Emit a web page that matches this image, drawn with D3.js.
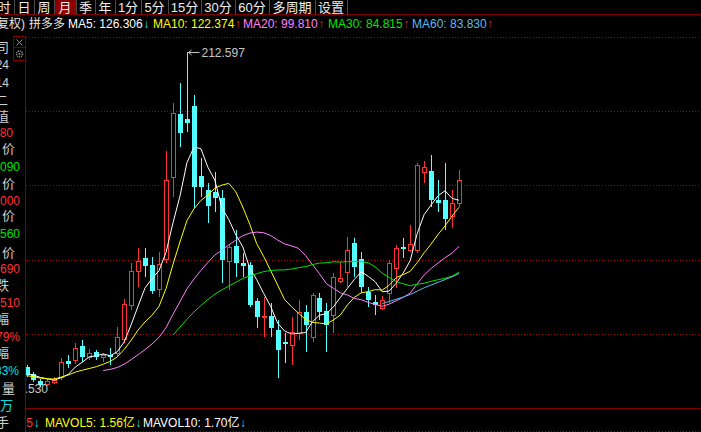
<!DOCTYPE html>
<html>
<head>
<meta charset="utf-8">
<script src="https://cdn.jsdelivr.net/npm/d3@7/dist/d3.min.js"></script>
<style>
html,body{margin:0;padding:0;background:#000;overflow:hidden;}
svg{display:block;}
text{font-family:"Liberation Sans","Noto Sans CJK SC",sans-serif;}
</style>
</head>
<body>
<svg id="chart" width="701" height="432"></svg>
<script>
// ---------------- DATA ----------------
const months = ["2019-03","2019-04","2019-05","2019-06","2019-07","2019-08","2019-09","2019-10","2019-11","2019-12",
"2020-01","2020-02","2020-03","2020-04","2020-05","2020-06","2020-07","2020-08","2020-09","2020-10","2020-11","2020-12",
"2021-01","2021-02","2021-03","2021-04","2021-05","2021-06","2021-07","2021-08","2021-09","2021-10","2021-11","2021-12",
"2022-01","2022-02","2022-03","2022-04","2022-05","2022-06","2022-07","2022-08","2022-09","2022-10","2022-11","2022-12",
"2023-01","2023-02","2023-03","2023-04","2023-05","2023-06","2023-07","2023-08","2023-09","2023-10","2023-11","2023-12",
"2024-01","2024-02","2024-03","2024-04","2024-05"];

const open = [28.39,24.29,20.20,18.45,19.62,22.54,31.89,32.48,40.67,34.24,
37.16,34.24,35.41,36.57,44.76,64.64,84.53,92.13,88.04,74.00,
91.55,139.50,176.34,173.42,181.02,140.08,131.90,130.73,127.22,90.38,
99.15,89.21,88.04,66.99,57.63,58.22,50.02,43.01,41.25,48.27,
60.55,45.93,68.74,61.14,58.80,78.68,83.94,100.90,91.55,72.25,
66.40,62.89,71.66,86.28,98.56,96.81,96.81,142.43,143.01,126.05,
126.05,116.69,124.30];

const high = [29.56,25.46,21.37,21.96,22.54,33.65,35.40,42.42,44.18,38.91,
38.33,36.57,39.50,51.78,68.15,89.21,97.98,97.98,92.71,95.64,
154.71,182.78,194.47,212.597,187.45,150.61,136.00,142.43,131.90,99.73,
108.51,95.06,89.79,68.74,69.33,65.82,55.87,48.27,57.63,67.57,
64.64,71.66,71.66,65.82,83.36,89.79,104.41,103.83,95.64,75.17,
70.49,69.91,90.96,99.73,103.83,111.41,147.69,148.61,152.37,137.75,
147.69,131.90,143.60];

const low = [22.54,19.62,16.53,17.28,18.45,20.79,27.80,30.14,31.31,32.48,
32.48,31.31,29.56,34.82,42.42,61.72,75.17,81.02,71.08,69.33,
89.21,127.80,157.04,165.82,121.37,127.80,112.59,119.03,77.51,73.42,
81.02,81.02,63.47,51.19,45.93,45.93,21.96,30.73,29.56,44.18,
37.16,43.01,55.87,37.16,48.27,77.51,75.17,81.02,71.66,63.47,
58.80,61.72,65.82,74.59,92.13,95.64,95.06,135.99,121.96,119.03,
108.51,109.68,121.96];

const close = [23.71,20.79,17.86,20.20,20.79,31.31,30.14,39.50,34.24,36.57,
34.24,35.41,34.24,45.93,65.23,84.53,90.38,87.45,72.83,88.62,
137.75,176.93,165.23,171.08,133.65,133.65,122.55,127.22,90.96,98.56,
89.21,87.45,64.64,57.63,58.22,51.19,38.33,41.84,48.86,60.55,
52.95,70.49,60.55,52.95,81.02,80.44,96.81,86.87,75.17,67.57,
64.64,67.57,89.21,97.98,97.40,100.32,146.52,145.35,126.05,124.30,
114.94,124.30,137.75];

const ma5 = [24.6,23.6,22.3,21.5,20.67,22.19,24.06,28.39,31.20,34.35,
34.94,35.99,34.94,37.28,43.01,53.07,64.06,74.70,80.08,84.76,
95.41,112.72,128.27,147.92,156.93,156.11,145.23,137.63,121.61,114.59,
105.70,98.68,86.16,79.50,71.43,63.83,54.00,49.44,47.69,48.15,
48.51,54.94,58.68,59.50,63.59,69.09,74.35,79.62,84.06,81.37,
78.21,72.36,72.83,77.39,83.36,90.50,106.29,117.51,123.13,128.51,
131.43,126.99,125.9];

const ma10 = [23.3,22.8,21.9,21.4,21.4,22.5,23.7,25.4,26.5,27.51,
28.56,30.03,31.66,34.24,38.68,44.00,50.03,54.82,58.68,63.89,
74.24,88.39,101.49,114.00,120.85,125.76,128.97,132.95,134.76,135.76,
130.90,121.96,111.90,100.55,93.01,84.76,76.34,67.80,63.59,59.79,
56.17,54.47,54.06,53.59,55.87,58.80,64.65,69.15,71.78,72.48,
73.65,73.36,76.23,80.73,82.37,84.35,89.33,95.17,100.26,105.93,
110.96,116.64,121.8];

const ma20 = [null,null,null,null,null,null,null,null,null,null,
null,26.3,27.0,28.1,30.0,32.7,35.6,38.6,41.9,45.70,
51.40,59.21,66.58,74.12,79.76,84.88,89.50,93.89,96.72,99.82,
102.57,105.17,106.69,107.28,106.93,105.26,102.66,100.38,99.18,97.78,
93.54,88.21,82.98,77.07,74.44,71.78,70.49,68.48,67.69,66.14,
64.91,63.91,65.14,67.16,69.12,71.58,76.99,82.16,86.02,89.21,
92.31,95.00,98.9];

const ma30 = [null,null,null,null,null,null,null,null,null,null,
null,null,null,null,null,null,null,null,null,null,
null,47.0,51.7,56.3,60.5,64.4,67.8,71.0,73.5,75.72,
77.90,80.12,81.68,82.93,84.18,84.84,85.11,85.19,85.68,86.48,
87.10,88.27,89.15,89.38,89.91,89.77,89.99,89.97,90.05,89.34,
86.91,83.26,80.73,78.29,77.08,75.97,76.77,77.38,78.54,79.40,
80.26,81.49,83.9];

const ma60 = [null,null,null,null,null,null,null,null,null,null,
null,null,null,null,null,null,null,null,null,null,
null,null,null,null,null,null,null,null,null,null,
null,null,null,null,null,null,null,null,null,null,
null,null,null,null,null,null,null,null,null,null,
null,65.5,66.7,68.0,69.3,70.8,72.7,74.7,76.3,77.9,
79.5,81.2,83.0];

const stockName = "拼多多";
const maNames = ["MA5","MA10","MA20","MA30","MA60"];
const maLatest = ["126.306","122.374","99.810","84.815","83.830"];
const maTrend = ["↓","↑","↑","↑","↑"];
const volNames = ["MAVOL5","MAVOL10"];
const volLatest = ["1.56亿","1.70亿"];
const volTrend = ["↓","↓"];
const menuItems = ["时","日","周","月","季","年","1分","5分","15分","30分","60分","多周期","设置"];
const menuSelected = "月";
const sideText = ["公司","24","14","二","值","80","价","090","价","000","价","560","价","690","跌","510","幅","79%","幅","83%","量","万","手"];

// ---------------- LAYOUT / STYLE ----------------
const W = 701, H = 432;
const plot = {left: 26, right: 701, top: 37, bottom: 408};
const RED = "#ff3232", CYAN = "#54ffff", DARKRED = "#800000", DOT = "#a80000";
const maColors = ["#ffffff","#ffff00","#ff80ff","#00e600","#5cb8f0"];
const maSeries = [ma5, ma10, ma20, ma30, ma60];

const svg = d3.select("#chart");
svg.append("rect").attr("width", W).attr("height", H).attr("fill", "#000");
const defs = svg.append("defs");
defs.append("clipPath").attr("id", "plotclip").append("rect")
  .attr("x", plot.left).attr("y", plot.top - 2).attr("width", plot.right - plot.left).attr("height", plot.bottom - plot.top + 2);

const x = d3.scalePoint().domain(months).range([26.5, 459]);
const y = d3.scaleLinear().domain([4.41, 221.37]).range([plot.bottom, plot.top]);

// ---- menu bar ----
const menuEdges = [-6, 14, 34, 54, 76, 95, 115, 141, 168, 201, 235, 269, 315, 347];
const menu = svg.append("g");
menuItems.forEach((t, i) => {
  const x0 = menuEdges[i], x1 = menuEdges[i + 1];
  if (t === menuSelected) menu.append("rect").attr("x", x0 + 1).attr("y", 0).attr("width", x1 - x0 - 1).attr("height", 14).attr("fill", "#8c0000");
  menu.append("line").attr("x1", x1 + 0.5).attr("x2", x1 + 0.5).attr("y1", 0).attr("y2", 14).attr("stroke", "#4a4a4a");
  menu.append("text").attr("x", (x0 + x1) / 2).attr("y", 11.5).attr("text-anchor", "middle")
    .attr("font-size", 13).attr("fill", "#eeeeee").text(t);
});
svg.append("line").attr("x1", 0).attr("x2", W).attr("y1", 14.5).attr("y2", 14.5).attr("stroke", DARKRED);

// ---- title line ----
const title = svg.append("g").attr("font-size", 12);
title.append("text").attr("x", 25).attr("y", 27.5).attr("text-anchor", "end").attr("fill", "#e6e6e6").text("(前复权)");
title.append("text").attr("x", 29).attr("y", 27.5).attr("fill", "#e6e6e6").text(stockName);
const maX = [68, 153, 243, 328, 412];
maNames.forEach((n, i) => {
  const t = title.append("text").attr("x", maX[i]).attr("y", 27.5).attr("fill", maColors[i]).text(n + ": " + maLatest[i]);
  const w = t.node().getComputedTextLength();
  title.append("text").attr("x", maX[i] + w + 0.5).attr("y", 27.5)
    .attr("fill", maTrend[i] === "↓" ? "#00e0e0" : "#d03030").text(maTrend[i]);
});

// ---- grid ----
const grid = svg.append("g");
for (let k = 0; k < 5; k++) {
  const gy = Math.round(plot.top + k * (plot.bottom - plot.top) / 5) + 0.5;
  grid.append("line").attr("x1", plot.left).attr("x2", plot.right).attr("y1", gy).attr("y2", gy)
    .attr("stroke", DOT).attr("stroke-dasharray", "1,2");
}
grid.append("line").attr("x1", plot.left).attr("x2", plot.right).attr("y1", 431.5).attr("y2", 431.5)
  .attr("stroke", DOT).attr("stroke-dasharray", "1,2");
svg.append("line").attr("x1", 25).attr("x2", W).attr("y1", plot.bottom + 0.5).attr("y2", plot.bottom + 0.5).attr("stroke", DARKRED);
svg.append("line").attr("x1", 25.5).attr("x2", 25.5).attr("y1", 36).attr("y2", H).attr("stroke", DARKRED);

// small boxes at the top-left corner
const boxes = svg.append("g");
boxes.append("rect").attr("x", 13.5).attr("y", 36.5).attr("width", 12).attr("height", 11).attr("fill", "none").attr("stroke", DARKRED);
boxes.append("rect").attr("x", 13.5).attr("y", 47.5).attr("width", 12).attr("height", 13).attr("fill", "none").attr("stroke", DARKRED);
boxes.append("path").attr("d", "M16.5,39.5 L22.5,45.5 M22.5,39.5 L16.5,45.5").attr("stroke", "#909090");
boxes.append("circle").attr("cx", 19.5).attr("cy", 54).attr("r", 3).attr("fill", "none").attr("stroke", "#909090").attr("stroke-width", 1.5).attr("stroke-dasharray", "1.2,0.8");
boxes.append("circle").attr("cx", 19.5).attr("cy", 54).attr("r", 1).attr("fill", "#909090");

// ---- side labels (clipped info panel) ----
const sideEnd = [9,9,9,8,9,13,15,20,15,20,15,20,15,20,9,20,9,20,9,19,15,13,9];
const sideY = [47,64,82,100,116,132,148,166,183,200,215,233,252,268,285,302,318,336,352,370,388,405,422];
const sideCol = ["#d0d0d0","#d0d0d0","#d0d0d0","#d0d0d0","#d0d0d0",RED,"#d0d0d0","#00e000","#d0d0d0",RED,"#d0d0d0","#00e000",
  "#d0d0d0",RED,"#d0d0d0",RED,"#d0d0d0",RED,"#d0d0d0","#00e0e0","#d0d0d0","#00e0e0","#d0d0d0"];
const side = svg.append("g");
sideText.forEach((t, i) => {
  const cjk = /[\u4e00-\u9fff]/.test(t);
  side.append("text").attr("x", sideEnd[i]).attr("y", sideY[i] + 4.5).attr("text-anchor", "end")
    .attr("font-size", cjk ? 13 : 12).attr("fill", sideCol[i]).text(t);
});

// ---- candles ----
const cg = svg.append("g").attr("clip-path", "url(#plotclip)");
months.forEach((m, i) => {
  const o = open[i], c = close[i], h = high[i], l = low[i];
  const cx = Math.round(x(m)) + 0.5;
  const up = c >= o;
  const yt = Math.round(y(Math.max(o, c))), yb = Math.round(y(Math.min(o, c)));
  const yh = Math.round(y(h)), yl = Math.round(y(l));
  if (up) {
    if (yh < yt) cg.append("line").attr("x1", cx).attr("x2", cx).attr("y1", yh).attr("y2", yt).attr("stroke", RED);
    if (yl > yb) cg.append("line").attr("x1", cx).attr("x2", cx).attr("y1", yb).attr("y2", yl).attr("stroke", RED);
    if (yb - yt < 1) {
      cg.append("line").attr("x1", cx - 2.5).attr("x2", cx + 2.5).attr("y1", yt + 0.5).attr("y2", yt + 0.5).attr("stroke", RED);
    } else {
      cg.append("rect").attr("x", cx - 2).attr("y", yt + 0.5).attr("width", 4).attr("height", yb - yt)
        .attr("fill", "#000").attr("stroke", RED);
    }
  } else {
    cg.append("line").attr("x1", cx).attr("x2", cx).attr("y1", yh).attr("y2", yl).attr("stroke", CYAN);
    cg.append("rect").attr("x", cx - 2.5).attr("y", yt).attr("width", 5).attr("height", Math.max(1, yb - yt)).attr("fill", CYAN);
  }
});

// ---- moving average lines ----
maSeries.forEach((s, k) => {
  const line = d3.line().defined(d => d != null).x((d, i) => x(months[i])).y(d => y(d));
  cg.append("path").datum(s).attr("d", line).attr("fill", "none").attr("stroke", maColors[k]).attr("stroke-width", 1);
});

// ---- high / low markers ----
const hiIdx = d3.maxIndex(high), loIdx = d3.minIndex(low);
const hx = Math.round(x(months[hiIdx])) + 0.5, hy = Math.round(y(high[hiIdx])) + 0.5;
const mk = svg.append("g");
mk.append("path").attr("d", `M${hx + 1},${hy} L${hx + 12},${hy} M${hx + 1},${hy} L${hx + 4},${hy - 2.5} M${hx + 1},${hy} L${hx + 4},${hy + 2.5}`)
  .attr("stroke", "#c8c8c8").attr("fill", "none");
mk.append("text").attr("x", hx + 14).attr("y", hy + 4.5).attr("font-size", 12).attr("fill", "#c8c8c8")
  .text(d3.format(".3f")(high[hiIdx]));
const lx = Math.round(x(months[loIdx])) + 0.5, ly = y(low[loIdx]);
svg.append("g").attr("clip-path", "url(#plotclip)").append("text")
  .attr("x", lx + 7.5).attr("y", ly + 5.5).attr("text-anchor", "end").attr("font-size", 12).attr("fill", "#c8c8c8")
  .text(d3.format(".3f")(low[loIdx]));

// ---- volume title ----
const vt = svg.append("g").attr("font-size", 12);
vt.append("text").attr("x", 33).attr("y", 426.5).attr("text-anchor", "end").attr("fill", RED).text("5");
vt.append("text").attr("x", 33.5).attr("y", 426.5).attr("fill", "#00e0e0").text("↓");
const volX = [45, 143], volCol = ["#ffff00", "#ffffff"];
volNames.forEach((n, i) => {
  const t = vt.append("text").attr("x", volX[i]).attr("y", 426.5).attr("fill", volCol[i]).text(n + ": " + volLatest[i]);
  const w = t.node().getComputedTextLength();
  vt.append("text").attr("x", volX[i] + w + 0.5).attr("y", 426.5).attr("fill", "#00e0e0").text(volTrend[i]);
});
</script>
</body>
</html>
